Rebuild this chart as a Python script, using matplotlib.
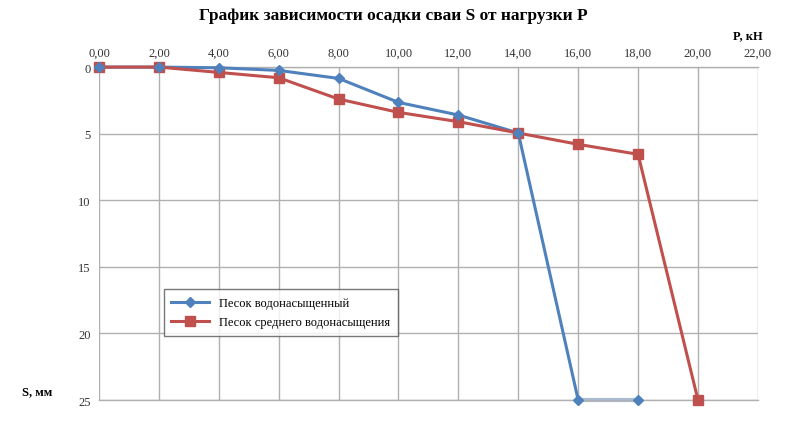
import matplotlib
matplotlib.use("Agg")
import matplotlib.pyplot as plt
from matplotlib.ticker import FuncFormatter

P_blue = [0, 2, 4, 6, 8, 10, 12, 14, 16, 18]
S_blue = [0, 0, 0.05, 0.25, 0.85, 2.65, 3.6, 4.95, 25, 25]
P_red = [0, 2, 4, 6, 8, 10, 12, 14, 16, 18, 20]
S_red = [0, 0, 0.4, 0.8, 2.4, 3.4, 4.1, 4.95, 5.8, 6.55, 25]
label_blue = "Песок водонасыщенный"
label_red = "Песок среднего водонасыщения"
xticks = [0, 2, 4, 6, 8, 10, 12, 14, 16, 18, 20, 22]
yticks = [0, 5, 10, 15, 20, 25]

plt.rcParams['font.family'] = ['Liberation Serif', 'DejaVu Serif']

fig = plt.figure(figsize=(7.87, 4.31), dpi=100)
ax = fig.add_axes([0.1258, 0.0696, 0.963 - 0.1258, 0.842 - 0.0696])

blue = '#4F81BD'
red = '#C0504D'

# faded last segment of blue series
ax.plot(P_blue[-2:], S_blue[-2:], color='#A9BCD6', lw=3, zorder=2, clip_on=False)
ax.plot(P_blue[:-1], S_blue[:-1], color=blue, lw=2.2, zorder=3, clip_on=False)
ax.plot(P_blue, S_blue, color=blue, lw=0, marker='D', ms=5, zorder=4, clip_on=False)
ax.plot([], [], color=blue, lw=2.2, marker='D', ms=5, label=label_blue)
ax.plot(P_red, S_red, color=red, lw=2.2, marker='s', ms=7, zorder=3, label=label_red, clip_on=False)

ax.set_xlim(0, 22)
ax.set_ylim(25, 0)
ax.set_xticks(xticks)
ax.set_yticks(yticks)
ax.xaxis.tick_top()
ax.xaxis.set_major_formatter(FuncFormatter(lambda v, p: f"{v:.2f}".replace('.', ',')))
ax.tick_params(axis='both', length=0, labelsize=9, pad=6, colors='#333333')
ax.grid(True, color='#B0B0B0', lw=1)
for s in ax.spines.values():
    s.set_color('#B0B0B0')
    s.set_linewidth(1)
ax.spines['left'].set_visible(False)
ax.spines['right'].set_visible(False)
ax.set_axisbelow(True)

leg = ax.legend(loc='upper left', bbox_to_anchor=(0.089, 0.351), fontsize=9,
                frameon=True, fancybox=False, edgecolor='#555555', handlelength=3,
                borderpad=0.6, labelspacing=0.6)
leg.get_frame().set_linewidth(1)

fig.text(0.5, 0.962, "График зависимости осадки сваи S от нагрузки P", ha='center', va='center',
         fontsize=12.5, fontweight='bold')
fig.text(0.95, 0.915, "P, кН", ha='center', va='center', fontsize=9, fontweight='bold')
fig.text(0.028, 0.09, "S, мм", ha='left', va='center', fontsize=9, fontweight='bold')

fig.savefig("out.png", dpi=100)
